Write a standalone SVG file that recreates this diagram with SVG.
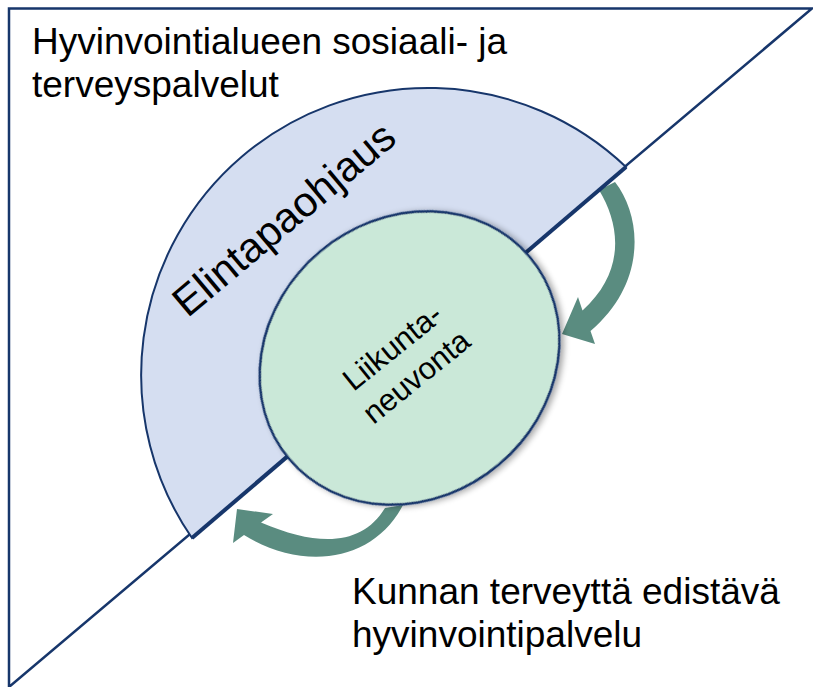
<svg xmlns="http://www.w3.org/2000/svg" width="813" height="687" viewBox="0 0 813 687">
<style>
.line{fill:none;stroke:#17366b;stroke-width:2.5;stroke-linejoin:miter}
.lbl{font-family:"Liberation Sans",Arial,sans-serif;fill:#000}
.arrow{fill:#5a8c80}
</style>
<defs>
<filter id="sh" x="-20%" y="-20%" width="140%" height="140%">
<feGaussianBlur in="SourceAlpha" stdDeviation="3"/>
<feOffset dx="2" dy="3" result="b"/>
<feComponentTransfer><feFuncA type="linear" slope="0.35"/></feComponentTransfer>
<feMerge><feMergeNode/><feMergeNode in="SourceGraphic"/></feMerge>
</filter>
</defs>
<rect width="813" height="687" fill="#fff"/>
<g id="frame">
<path class="line" d="M812,8.5 L9,8.5 L9,687 Z"/>
</g>
<g id="connectors">
<path class="arrow" d="M599,190 C621,226 625,272 582.5,310.5 L578,297 L562,334 L595,344 L590.5,331 C646,284 643,218 615,182 Z"/>
<path class="arrow" d="M385,508 C362,546 318,547 261,522.5 L273,514 L237,509 L233,543 L244,535 C302,571 373,563 403,505 Z"/>
</g>
<g id="elintapaohjaus">
<path d="M626,167 A287,287 0 0 0 192,538 Z" fill="#d5def1" stroke="#17366b" stroke-width="2"/>
<line x1="626" y1="167" x2="192" y2="538" stroke="#17366b" stroke-width="4"/>
<text class="lbl" font-size="42" text-anchor="middle" transform="translate(293,230) rotate(-40)">Elintapaohjaus</text>
</g>
<g id="liikuntaneuvonta">
<ellipse cx="0" cy="0" rx="157" ry="139" transform="translate(409.5,358) rotate(-40)" fill="#cae8d8" stroke="#17366b" stroke-width="2.5" filter="url(#sh)"/>
<text class="lbl" font-size="31" text-anchor="middle" transform="translate(411,370) rotate(-39)"><tspan x="0" y="-19">Liikunta-</tspan><tspan x="0" y="19">neuvonta</tspan></text>
</g>
<g id="labels">
<text class="lbl" font-size="37" x="32" y="54">Hyvinvointialueen sosiaali- ja</text>
<text class="lbl" font-size="37" x="32" y="97">terveyspalvelut</text>
<text class="lbl" font-size="37" x="352" y="604">Kunnan terveyttä edistävä</text>
<text class="lbl" font-size="37" x="352" y="647">hyvinvointipalvelu</text>
</g>
</svg>
